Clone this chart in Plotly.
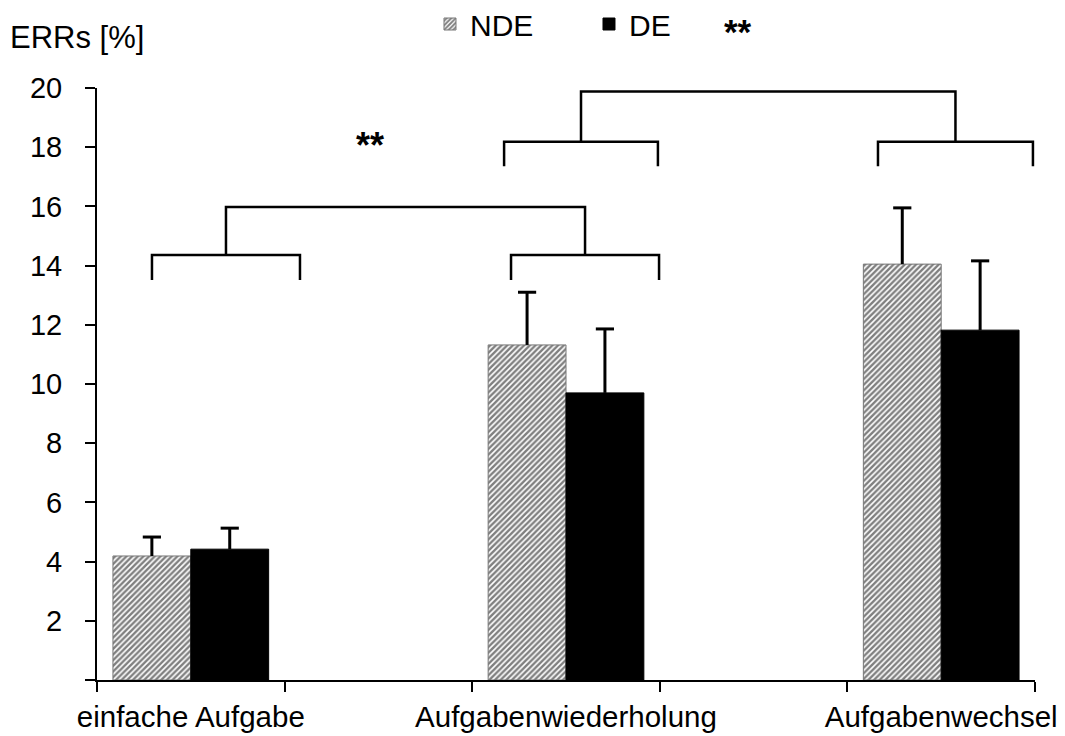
import plotly.graph_objects as go

categories = ["einfache Aufgabe", "Aufgabenwiederholung", "Aufgabenwechsel"]
cat_pos = [0, 2, 4]
nde = [4.19, 11.32, 14.05]
de = [4.42, 9.70, 11.82]
nde_err = [0.64, 1.78, 1.90]
de_err = [0.71, 2.16, 2.34]
y_ticks = [0, 2, 4, 6, 8, 10, 12, 14, 16, 18, 20]
y_ticklabels = ["", "2", "4", "6", "8", "10", "12", "14", "16", "18", "20"]
x_boundaries = [-0.5, 0.5, 1.5, 2.5, 3.5, 4.5]

# significance brackets: (left leg x, right leg x); y: (bar y, leg bottom y, connector top y)
low_brackets = [(-0.207, 0.582), (1.707, 2.496)]
low_y = (14.36, 13.51, 15.98)
high_brackets = [(1.670, 2.490), (3.663, 4.489)]
high_y = (18.18, 17.36, 19.88)

FONT = "Liberation Sans, Arial, sans-serif"
BW = 0.415

fig = go.Figure()
fig.add_trace(go.Bar(
    name="NDE", x=cat_pos, y=nde, width=BW, offset=-BW,
    marker=dict(color="white", line=dict(color="#777777", width=1),
                pattern=dict(shape="/", size=4, solidity=0.6, fgcolor="black", bgcolor="white")),
    error_y=dict(type="data", array=nde_err, arrayminus=[0]*3, symmetric=False,
                 thickness=3, width=0, color="black"),
))
fig.add_trace(go.Bar(
    name="DE", x=cat_pos, y=de, width=BW, offset=0,
    marker=dict(color="black", line=dict(color="black", width=1)),
    error_y=dict(type="data", array=de_err, arrayminus=[0]*3, symmetric=False,
                 thickness=3, width=0, color="black"),
))
# error bar caps
cap_x = [c - BW / 2 for c in cat_pos] + [c + BW / 2 for c in cat_pos]
cap_y = [v + e for v, e in zip(nde, nde_err)] + [v + e for v, e in zip(de, de_err)]
fig.add_trace(go.Scatter(
    x=cap_x, y=cap_y, mode="markers", showlegend=False, hoverinfo="skip",
    marker=dict(symbol="line-ew-open", size=13, color="black", line=dict(color="black", width=3)),
))

shapes = []
def bracket_group(pairs, ys):
    ybar, ybot, ytop = ys
    mids = []
    for (xl, xr) in pairs:
        shapes.append(dict(type="path", xref="x", yref="y",
                           path=f"M{xl},{ybot} L{xl},{ybar} L{xr},{ybar} L{xr},{ybot}",
                           line=dict(color="black", width=2.5)))
        mids.append((xl + xr) / 2)
    shapes.append(dict(type="path", xref="x", yref="y",
                       path=f"M{mids[0]},{ybar} L{mids[0]},{ytop} L{mids[1]},{ytop} L{mids[1]},{ybar}",
                       line=dict(color="black", width=2.5)))

bracket_group(low_brackets, low_y)
bracket_group(high_brackets, high_y)

# page body has an 8px margin, so the figure is made 8px smaller and margins shifted
fig.update_layout(
    width=1057, height=728,
    margin=dict(l=89, r=30, t=80, b=56, autoexpand=False),
    plot_bgcolor="white", paper_bgcolor="white",
    font=dict(family=FONT, size=29, color="black"),
    barmode="overlay",
    shapes=shapes,
    showlegend=True,
    legend=dict(orientation="h", x=0.355, y=(680 - 24) / 592, xanchor="left", yanchor="middle",
                font=dict(size=30), bgcolor="rgba(0,0,0,0)", traceorder="normal",
                entrywidth=114, entrywidthmode="pixels"),
    xaxis=dict(range=[-0.5, 4.5], tickvals=cat_pos, ticktext=categories, ticks="",
               showline=True, linecolor="black", linewidth=2, showgrid=False, zeroline=False,
               ticklabelstandoff=10, tickfont=dict(size=29.5), ticklabeloverflow="allow",
               minor=dict(tickvals=x_boundaries, ticks="outside", ticklen=10, tickwidth=2,
                          tickcolor="black", showgrid=False)),
    yaxis=dict(range=[0, 20], tickvals=y_ticks, ticktext=y_ticklabels, ticks="outside",
               ticklen=10, tickwidth=2, tickcolor="black", showline=True, linecolor="black",
               linewidth=2, showgrid=False, zeroline=False, ticklabelstandoff=17,
               tickfont=dict(size=29)),
    annotations=[
        dict(text="ERRs [%]", xref="paper", yref="paper", x=-0.095, y=1.0845,
             xanchor="left", yanchor="middle", showarrow=False, font=dict(size=31)),
        dict(text="<b>**</b>", xref="paper", yref="paper", x=(738 - 97) / 938, y=(680 - 31) / 592,
             xanchor="center", yanchor="middle", showarrow=False, font=dict(size=35)),
        dict(text="<b>**</b>", xref="x", yref="y", x=0.955, y=(680 - 145) / 29.6,
             xanchor="center", yanchor="middle", showarrow=False, font=dict(size=36)),
    ],
)

fig.write_html("out.html")
